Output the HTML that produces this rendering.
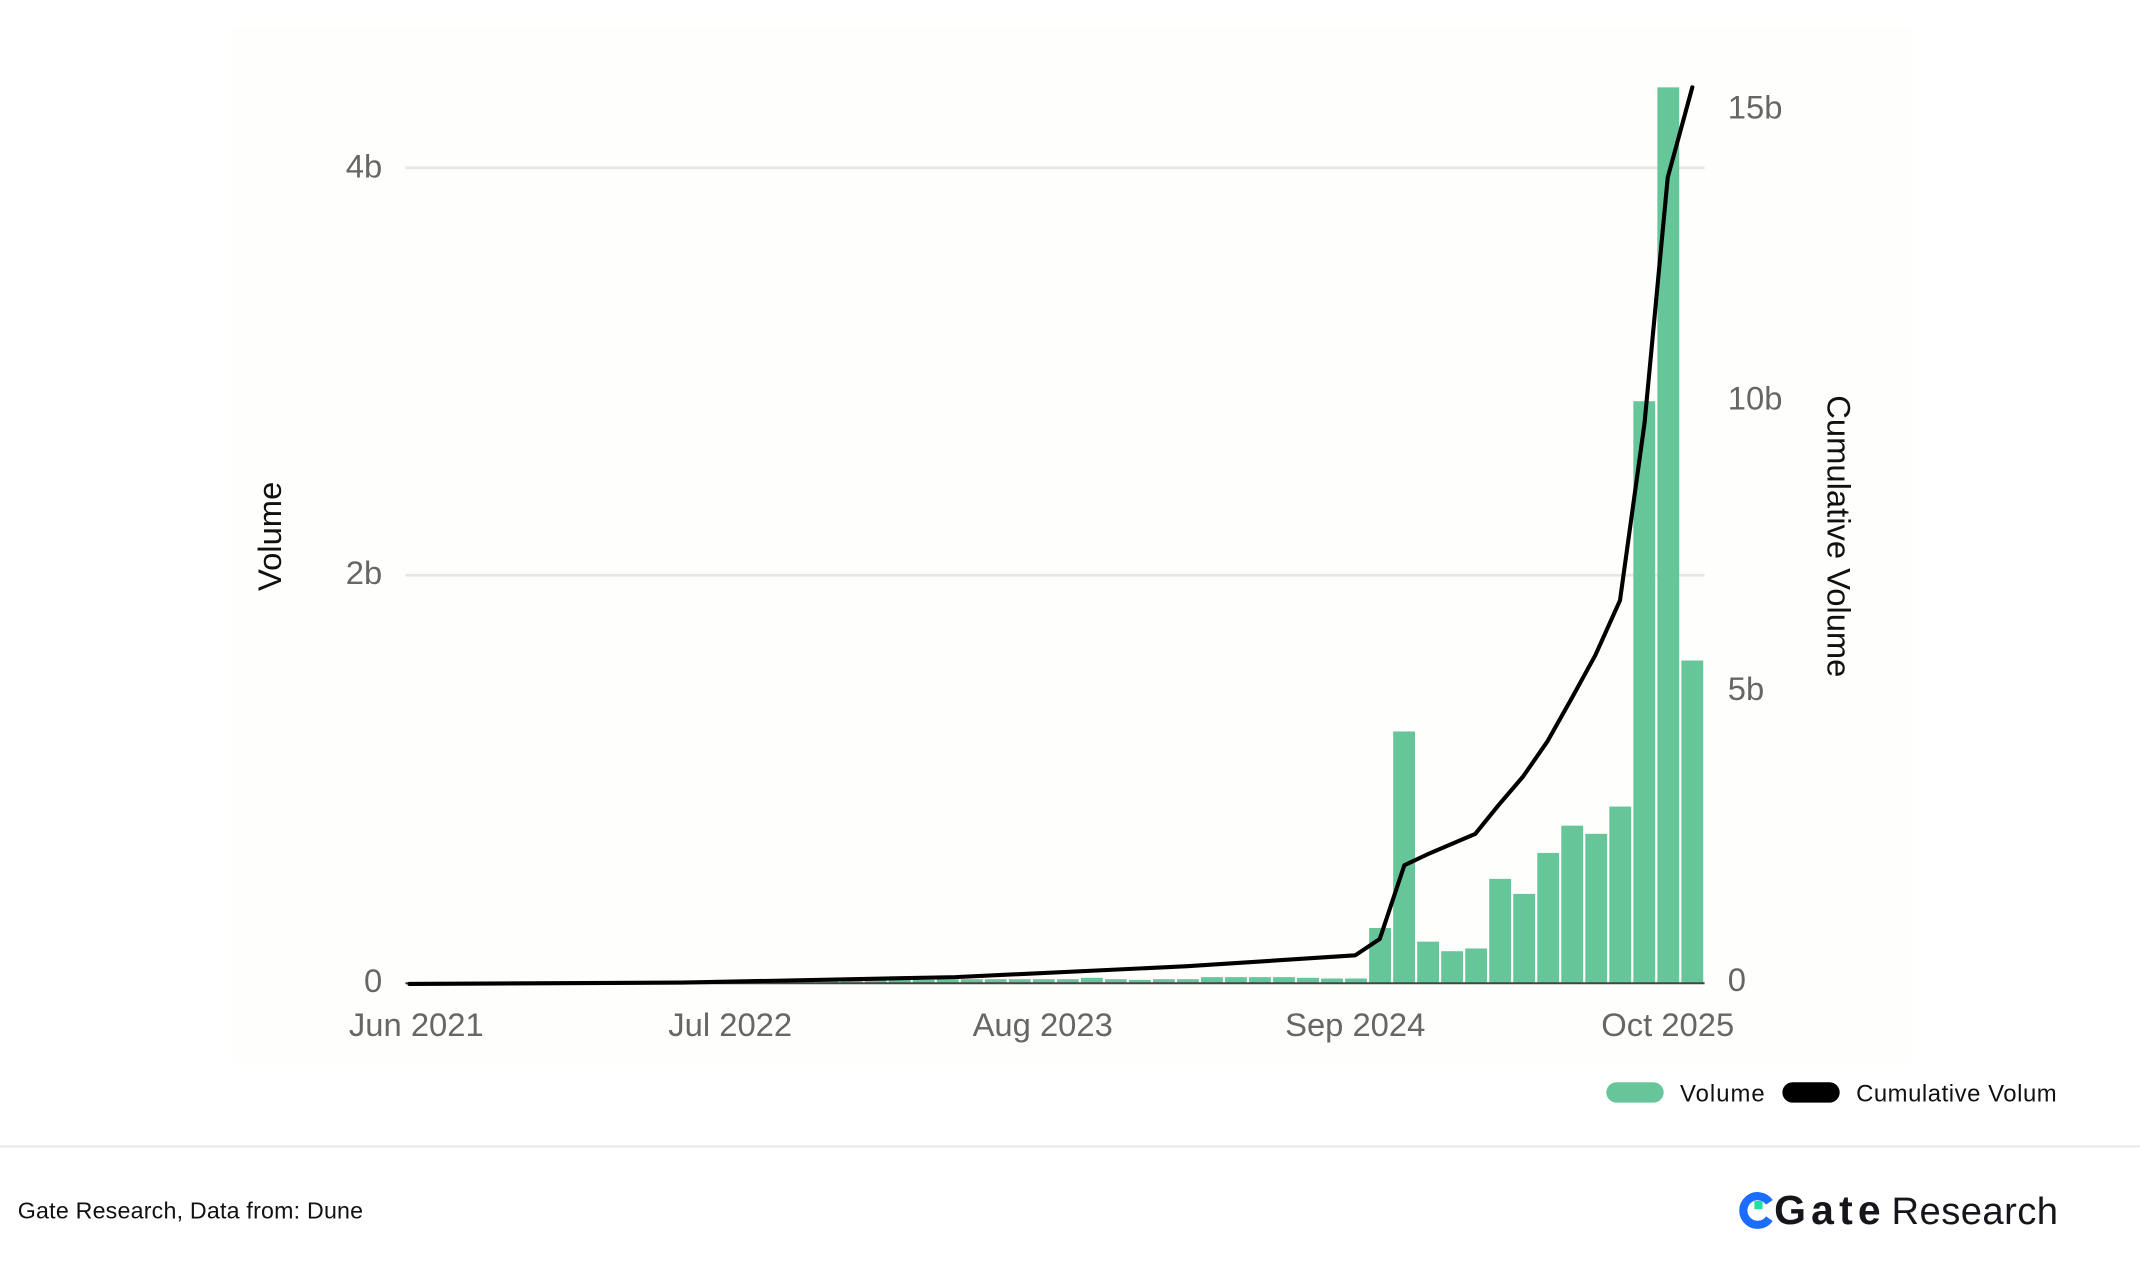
<!DOCTYPE html>
<html><head><meta charset="utf-8"><style>
html,body{margin:0;padding:0;background:#fff;}
svg{display:block;font-family:"Liberation Sans",sans-serif;}
</style></head><body>
<svg width="2140" height="1276" viewBox="0 0 1568 935" xmlns="http://www.w3.org/2000/svg">
<rect x="0" y="0" width="1568" height="935" fill="#fff"/>
<rect x="170" y="20" width="1230" height="760" fill="#fefefc"/>
<line x1="297" y1="123" x2="1249" y2="123" stroke="#e6e6e6" stroke-width="2"/>
<line x1="297" y1="421.5" x2="1249" y2="421.5" stroke="#e6e6e6" stroke-width="2"/>
<g fill="#666" font-size="24" text-anchor="end">
<text x="280" y="130">4b</text><text x="280" y="428">2b</text><text x="280" y="727">0</text>
</g>
<g fill="#666" font-size="24" text-anchor="start">
<text x="1266" y="87">15b</text><text x="1266" y="300">10b</text><text x="1266" y="513">5b</text><text x="1266" y="726">0</text>
</g>
<g fill="#666" font-size="24" text-anchor="middle">
<text x="305" y="759">Jun 2021</text><text x="535" y="759">Jul 2022</text><text x="764" y="759">Aug 2023</text><text x="993" y="759">Sep 2024</text><text x="1222" y="759">Oct 2025</text>
</g>
<text transform="translate(206,393) rotate(-90)" font-size="24" fill="#111" text-anchor="middle">Volume</text>
<text transform="translate(1339,393) rotate(90)" font-size="24" fill="#111" text-anchor="middle">Cumulative Volume</text>
<g fill="#66c69a">
<rect x="299.2" y="719.5" width="16" height="0.5"/><rect x="316.8" y="719.5" width="16" height="0.5"/><rect x="334.4" y="719.5" width="16" height="0.5"/><rect x="352" y="719.5" width="16" height="0.5"/><rect x="369.6" y="719.5" width="16" height="0.5"/><rect x="387.2" y="719.5" width="16" height="0.5"/><rect x="404.8" y="719.5" width="16" height="0.5"/><rect x="422.4" y="719.5" width="16" height="0.5"/><rect x="440" y="719.5" width="16" height="0.5"/><rect x="457.6" y="719.5" width="16" height="0.5"/><rect x="475.2" y="719.5" width="16" height="0.5"/><rect x="492.8" y="719.5" width="16" height="0.5"/><rect x="510.4" y="719.5" width="16" height="0.5"/>
<rect x="528" y="718.5" width="16" height="1.5"/><rect x="545.6" y="718.5" width="16" height="1.5"/><rect x="563.2" y="718.5" width="16" height="1.5"/><rect x="580.8" y="718.5" width="16" height="1.5"/><rect x="598.4" y="718.5" width="16" height="1.5"/><rect x="616" y="718.5" width="16" height="1.5"/><rect x="633.6" y="718" width="16" height="2"/><rect x="651.2" y="718" width="16" height="2"/>
<rect x="668.8" y="718" width="16" height="2"/><rect x="686.4" y="717.5" width="16" height="2.5"/><rect x="704" y="717.5" width="16" height="2.5"/><rect x="721.6" y="717.5" width="16" height="2.5"/><rect x="739.2" y="717.5" width="16" height="2.5"/><rect x="756.8" y="717.5" width="16" height="2.5"/>
<rect x="774.4" y="717.5" width="16" height="2.5"/><rect x="792" y="716.5" width="16" height="3.5"/><rect x="809.6" y="717.5" width="16" height="2.5"/><rect x="827.2" y="718" width="16" height="2"/><rect x="844.8" y="717.5" width="16" height="2.5"/><rect x="862.4" y="717.5" width="16" height="2.5"/><rect x="880" y="716" width="16" height="4"/><rect x="897.6" y="716" width="16" height="4"/><rect x="915.2" y="716" width="16" height="4"/><rect x="932.8" y="716" width="16" height="4"/><rect x="950.4" y="716.5" width="16" height="3.5"/><rect x="968" y="717" width="16" height="3"/><rect x="985.6" y="717" width="16" height="3"/>
<rect x="1003.2" y="680" width="16" height="40"/><rect x="1020.8" y="536" width="16" height="184"/><rect x="1038.4" y="690" width="16" height="30"/><rect x="1056" y="697" width="16" height="23"/><rect x="1073.6" y="695" width="16" height="25"/><rect x="1091.2" y="644" width="16" height="76"/><rect x="1108.8" y="655" width="16" height="65"/><rect x="1126.4" y="625" width="16" height="95"/><rect x="1144" y="605" width="16" height="115"/><rect x="1161.6" y="611" width="16" height="109"/><rect x="1179.2" y="591" width="16" height="129"/><rect x="1196.8" y="294" width="16" height="426"/><rect x="1214.4" y="64" width="16" height="656"/><rect x="1232" y="484" width="16" height="236"/>
</g>
<line x1="297" y1="720.5" x2="1249" y2="720.5" stroke="#444" stroke-width="1.5"/>
<polyline fill="none" stroke="#000" stroke-width="3" stroke-linejoin="round" stroke-linecap="round" points="300,721 500,720 700,716 870,708 993,700 1011,688 1029,634 1046,626 1081,611 1098,590 1116,569 1134,543 1152,511 1169,480 1187,440 1205,310 1222,130 1240,64"/>
<rect x="1177" y="793" width="42" height="15" rx="7.5" fill="#66c69a"/>
<text x="1231" y="807" font-size="17.5" fill="#111" textLength="62">Volume</text>
<rect x="1306" y="793" width="42" height="15" rx="7.5" fill="#000"/>
<text x="1360" y="807" font-size="17.5" fill="#111" textLength="147">Cumulative Volum</text>
<line x1="0" y1="840" x2="1568" y2="840" stroke="#e8e8e8" stroke-width="1.5"/>
<text x="13" y="893" font-size="17" fill="#111" textLength="253">Gate Research, Data from: Dune</text>
<path d="M1296.5,881 A10.5,10.5 0 1 0 1296.5,893" fill="none" stroke="#1a6dff" stroke-width="6"/>
<rect x="1285.5" y="880" width="6" height="6" fill="#1ee0a0"/>
<text x="1300" y="897" font-size="30" font-weight="bold" fill="#15151c" textLength="78">Gate</text>
<text x="1386" y="897" font-size="28" fill="#15151c" textLength="122">Research</text>
</svg>
</body></html>
